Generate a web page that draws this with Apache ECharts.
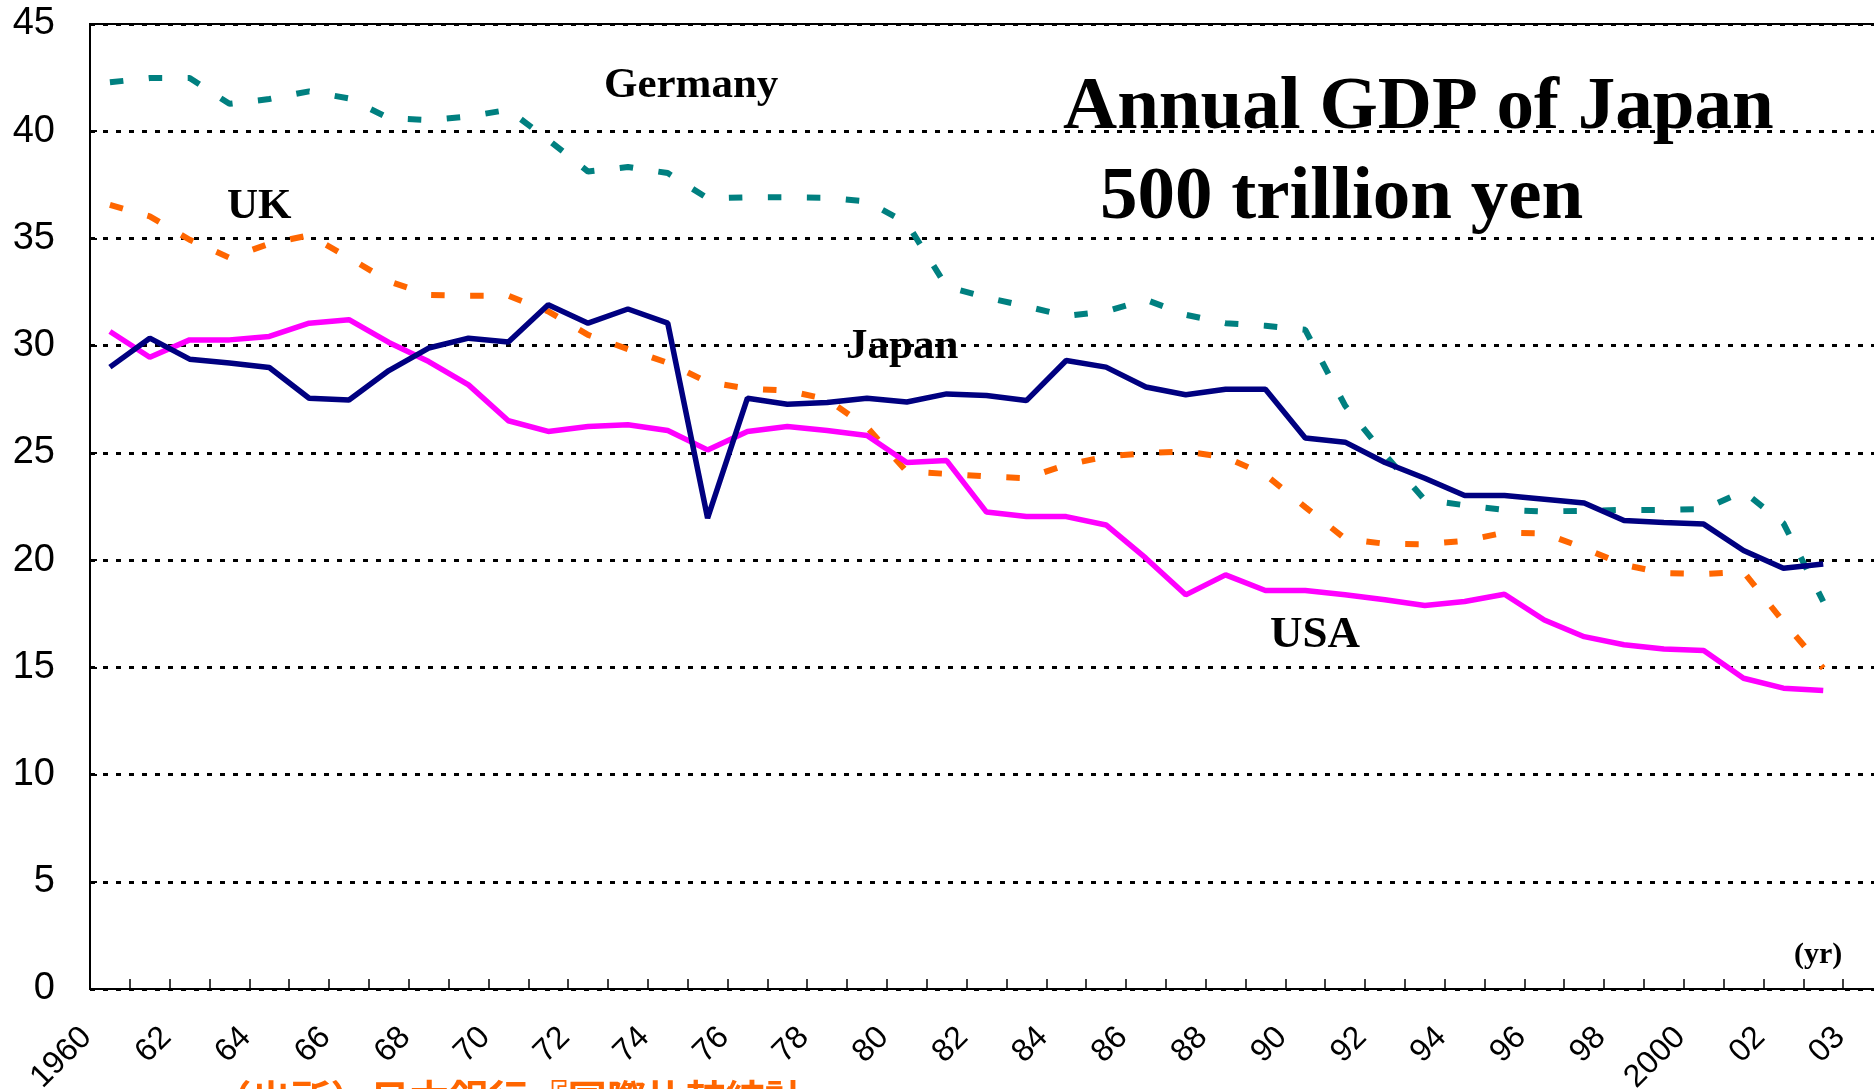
<!DOCTYPE html>
<html>
<head>
<meta charset="utf-8">
<title>Annual GDP of Japan</title>
<script src="https://cdn.jsdelivr.net/npm/echarts@6/dist/echarts.min.js"></script>
<style>
  html, body { margin: 0; padding: 0; background: #fff; }
  #chart { width: 1874px; height: 1089px; }
</style>
</head>
<body>
<div id="chart"></div>
<script>
// years with data; the axis has one more (empty) slot on the right, cut off by the frame
const years = [1960, 1961, 1962, 1963, 1964, 1965, 1966, 1967, 1968, 1969,
  1970, 1971, 1972, 1973, 1974, 1975, 1976, 1977, 1978, 1979,
  1980, 1981, 1982, 1983, 1984, 1985, 1986, 1987, 1988, 1989,
  1990, 1991, 1992, 1993, 1994, 1995, 1996, 1997, 1998, 1999,
  2000, 2001, 2002, 2003]
const trailingSlot = ['2004']

// labels under the axis, one per slot ("03" sits one slot to the right, as in the source)
const tickLabels = ['1960', '', '62', '', '64', '', '66', '', '68', '',
  '70', '', '72', '', '74', '', '76', '', '78', '',
  '80', '', '82', '', '84', '', '86', '', '88', '',
  '90', '', '92', '', '94', '', '96', '', '98', '',
  '2000', '', '02', '', '03']

const japan = [29.0, 30.35, 29.37, 29.19, 28.98, 27.55, 27.47, 28.84, 29.89, 30.35,
  30.17, 31.91, 31.05, 31.71, 31.05, 21.96, 27.55, 27.27, 27.35, 27.55,
  27.37, 27.75, 27.68, 27.44, 29.31, 29.0, 28.07, 27.71, 27.97, 27.97,
  25.69, 25.5, 24.55, 23.82, 23.01, 23.01, 22.84, 22.66, 21.85, 21.75,
  21.68, 20.45, 19.62, 19.82]

const usa = [30.66, 29.46, 30.27, 30.27, 30.43, 31.05, 31.21, 30.15, 29.26, 28.17,
  26.5, 26.0, 26.23, 26.31, 26.04, 25.14, 26.0, 26.23, 26.04, 25.81,
  24.55, 24.64, 22.24, 22.03, 22.03, 21.64, 20.09, 18.38, 19.31, 18.58,
  18.58, 18.38, 18.15, 17.88, 18.07, 18.41, 17.21, 16.43, 16.05, 15.85,
  15.78, 14.49, 14.03, 13.92]

const uk = [36.57, 36.03, 34.94, 34.1, 34.75, 35.15, 34.1, 33.0, 32.37, 32.33,
  32.33, 31.6, 30.5, 29.84, 29.2, 28.3, 28.0, 27.9, 27.5, 26.2,
  24.13, 24.02, 23.9, 23.82, 24.44, 24.83, 24.99, 25.06, 24.8, 23.98,
  22.47, 21.0, 20.76, 20.74, 20.9, 21.28, 21.25, 20.56, 19.78, 19.39,
  19.35, 19.45, 17.13, 14.96]

const germany = [42.28, 42.48, 42.48, 41.28, 41.5, 41.86, 41.53, 40.61, 40.52, 40.69,
  41.0, 39.6, 38.12, 38.33, 38.05, 36.87, 36.92, 36.92, 36.9, 36.73,
  35.72, 32.75, 32.25, 31.83, 31.39, 31.6, 32.14, 31.44, 31.05, 30.93,
  30.74, 27.2, 24.91, 22.81, 22.56, 22.34, 22.27, 22.3, 22.34, 22.34,
  22.38, 23.2, 21.72, 18.07]

const serif = '"Liberation Serif", "Times New Roman", serif'
const sans = '"Liberation Sans", Arial, sans-serif'

function note (text, x, y, size, color, family) {
  return {
    type: 'text',
    x: x,
    y: y,
    silent: true,
    style: {
      text: text,
      font: 'bold ' + size + 'px ' + (family || serif),
      fill: color || '#000',
      align: 'left',
      verticalAlign: 'middle',
      textAlign: 'left',
      textVerticalAlign: 'middle'
    }
  }
}

function lineSeries (name, data, color, type, z) {
  return {
    name: name,
    type: 'line',
    data: data,
    symbol: 'none',
    showSymbol: false,
    silent: true,
    z: z,
    lineStyle: {
      color: color,
      width: type === 'solid' ? 5.5 : 6,
      type: type,
      cap: 'butt'
    }
  }
}

const option = {
  animation: false,
  backgroundColor: '#fff',
  grid: {
    left: 90,
    top: 24,
    width: 1793,
    height: 965,
    show: true,
    borderColor: '#000',
    borderWidth: 2,
    backgroundColor: 'transparent',
    outerBoundsMode: 'none',
    containLabel: false
  },
  xAxis: {
    type: 'category',
    data: years.map(String).concat(trailingSlot),
    boundaryGap: true,
    axisLine: { show: true, lineStyle: { color: '#000', width: 2 } },
    axisTick: {
      show: true,
      inside: true,
      length: 10,
      interval: 0,
      lineStyle: { color: '#000', width: 1.5 }
    },
    axisLabel: {
      interval: 0,
      rotate: 45,
      margin: 20,
      padding: [0, 33, 0, 0],
      fontSize: 32,
      fontFamily: sans,
      color: '#000',
      formatter: function (value, index) {
        return tickLabels[index]
      }
    },
    splitLine: { show: false }
  },
  yAxis: {
    type: 'value',
    min: 0,
    max: 45,
    interval: 5,
    axisLine: { show: true, lineStyle: { color: '#000', width: 2 } },
    axisTick: { show: true, inside: true, length: 7, lineStyle: { color: '#000', width: 2 } },
    axisLabel: { fontSize: 38, fontFamily: sans, color: '#000', margin: 35 },
    splitLine: { show: true, lineStyle: { color: '#000', width: 3, type: [5, 8] } }
  },
  series: [
    lineSeries('Germany', germany, '#008080', [13.5, 25.5], 2),
    lineSeries('UK', uk, '#FF6600', [13.5, 25.5], 3),
    lineSeries('USA', usa, '#FF00FF', 'solid', 4),
    lineSeries('Japan', japan, '#000080', 'solid', 5)
  ],
  graphic: [
    note('Annual GDP of Japan', 1063, 108.8, 75),
    note('500 trillion yen', 1100, 198.8, 75),
    note('Germany', 604, 85.5, 43),
    note('UK', 227, 207.1, 43),
    note('Japan', 846, 347.1, 43),
    note('USA', 1270, 635, 45),
    note('(yr)', 1794, 955.5, 30),
    note('（出所）日本銀行『国際比較統計』', 212, 1099, 39.5, '#FF6600', '"Noto Sans CJK JP", sans-serif')
  ]
}

const chart = echarts.init(document.getElementById('chart'))
chart.setOption(option)
</script>
</body>
</html>
